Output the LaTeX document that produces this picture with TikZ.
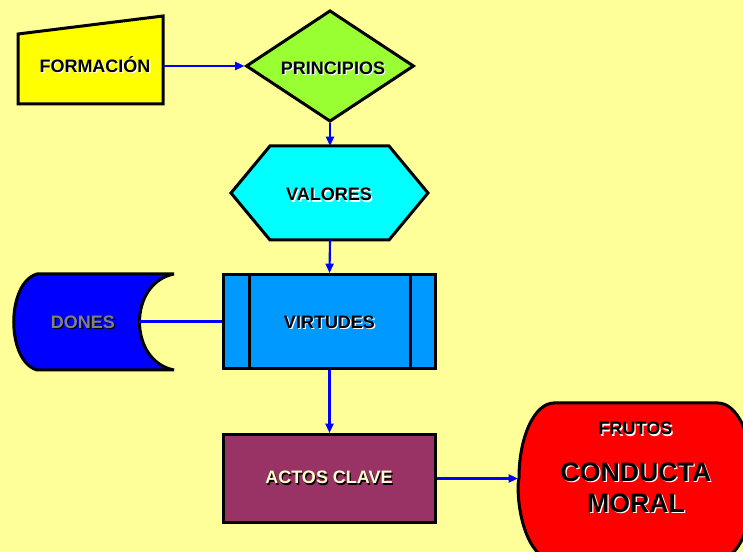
\documentclass[tikz,border=0pt]{standalone}
\usepackage{fontspec}
\setmainfont{Liberation Sans}
\usepackage{xcolor}
\usetikzlibrary{arrows.meta,shapes.geometric}
\definecolor{bg}{HTML}{FFFF99}
\definecolor{formYellow}{HTML}{FFFF00}
\definecolor{prinGreen}{HTML}{99FF33}
\definecolor{valCyan}{HTML}{00FFFF}
\definecolor{virtBlue}{HTML}{0099FF}
\definecolor{donesBlue}{HTML}{0000FF}
\definecolor{actosPlum}{HTML}{993366}
\definecolor{frutRed}{HTML}{FF0000}
\definecolor{linkBlue}{HTML}{0000FF}
\definecolor{cream}{HTML}{FFFFCC}
\definecolor{greyTxt}{HTML}{808080}
\tikzset{
  shapeEdge/.style={draw=black, line width=2.25pt, line join=miter},
  flowArrow/.style={draw=linkBlue, line width=1.6pt, -{Triangle[length=7pt,width=6pt]}},
  flowLine/.style={draw=linkBlue, line width=1.6pt},
  boxLbl/.style={font=\fontsize{13.5}{16}\selectfont\bfseries, inner sep=0pt, text height=9.7pt, text depth=0pt},
  bigLbl/.style={font=\fontsize{20}{23.25}\selectfont\bfseries, align=center, inner sep=0pt},
}
% text with a small offset shadow: shadow colour, text colour, text
\newcommand{\ShadowText}[3]{%
  \makebox[0pt][l]{\raisebox{-0.9pt}{\hspace{0.9pt}\textcolor{#1}{#3}}}\textcolor{#2}{#3}}

\begin{document}
\begin{tikzpicture}[x=0.75pt, y=-0.75pt]
  \useasboundingbox (0,0) rectangle (743,552);
  \clip (0,0) rectangle (743,552);
  \fill[bg] (0,0) rectangle (743,552);

  % formacion (manual input)
  \draw[shapeEdge, fill=formYellow] (18,34) -- (163,16) -- (163,104) -- (18,104) -- cycle;
  \node[boxLbl] (form) at (95,66) {\ShadowText{white}{black}{FORMACIÓN}};
  \coordinate (form-e) at (163,66);

  % principios
  \node[diamond, shapeEdge, fill=prinGreen, aspect=1.5, inner sep=0pt,
        minimum width=126pt, minimum height=83.5pt] (prin) at (330,66) {};
  \node[boxLbl] (prinTxt) at (333,68) {\ShadowText{white}{black}{PRINCIPIOS}};

  % valores (hexagon)
  \draw[shapeEdge, fill=valCyan] (231,193) -- (270,146) -- (389,146) -- (428,193)
    -- (389,240) -- (270,240) -- cycle;
  \node[boxLbl] (val) at (329,194.5) {\ShadowText{white}{black}{VALORES}};
  \coordinate (val-n) at (330,146);
  \coordinate (val-s) at (330,240);

  % virtudes (predefined process)
  \node[rectangle, shapeEdge, fill=virtBlue, minimum width=159pt, minimum height=70.5pt,
        inner sep=0pt] (virt) at (329.5,321.5) {};
  \draw[shapeEdge] ([xshift=20.25pt]virt.north west) -- ([xshift=20.25pt]virt.south west);
  \draw[shapeEdge] ([xshift=-20.25pt]virt.north east) -- ([xshift=-20.25pt]virt.south east);
  \node[boxLbl] (virtTxt) at (329.5,322) {\ShadowText{white}{black}{VIRTUDES}};

  % dones (stored data)
  \draw[shapeEdge, miter limit=2, fill=donesBlue] (37,274) -- (174,274) .. controls (128,283) and (128,361) .. (174,370)
    -- (37,370) .. controls (6,361) and (6,283) .. (37,274) -- cycle;
  \node[boxLbl] (dones) at (83,322) {\ShadowText{black}{greyTxt}{DONES}};
  \coordinate (dones-e) at (139,321.5);

  % actos clave
  \node[rectangle, shapeEdge, fill=actosPlum, minimum width=159pt, minimum height=66pt,
        inner sep=0pt] (actos) at (329.5,478.5) {};
  \node[boxLbl] (actosTxt) at (329,477.5) {\ShadowText{black}{cream}{ACTOS CLAVE}};

  % frutos
  \draw[shapeEdge, fill=frutRed] (553,403) -- (718,403)
    arc[start angle=-90, end angle=0, x radius=35, y radius=75] -- (753,485)
    arc[start angle=0, end angle=90, x radius=35, y radius=75] -- (553,560)
    arc[start angle=90, end angle=180, x radius=35, y radius=75] -- (519,478)
    arc[start angle=180, end angle=270, x radius=35, y radius=75] -- cycle;
  \node[boxLbl] (frutos) at (635.5,428.5) {\ShadowText{white}{black}{FRUTOS}};
  \node[bigLbl] (conducta) at (636,488) {\ShadowText{white}{black}{CONDUCTA}\\\ShadowText{white}{black}{MORAL}};
  \coordinate (frut-w) at (518,478.5);

  % connectors
  \draw[flowArrow] (form-e) -- (prin.west);
  \draw[flowArrow] (prin.south) -- (val-n);
  \draw[flowArrow] (val-s) -- (virt.north);
  \draw[flowLine] (dones-e) -- (virt.west);
  \draw[flowArrow] (virt.south) -- (actos.north);
  \draw[flowArrow] (actos.east) -- (frut-w);
\end{tikzpicture}
\end{document}
